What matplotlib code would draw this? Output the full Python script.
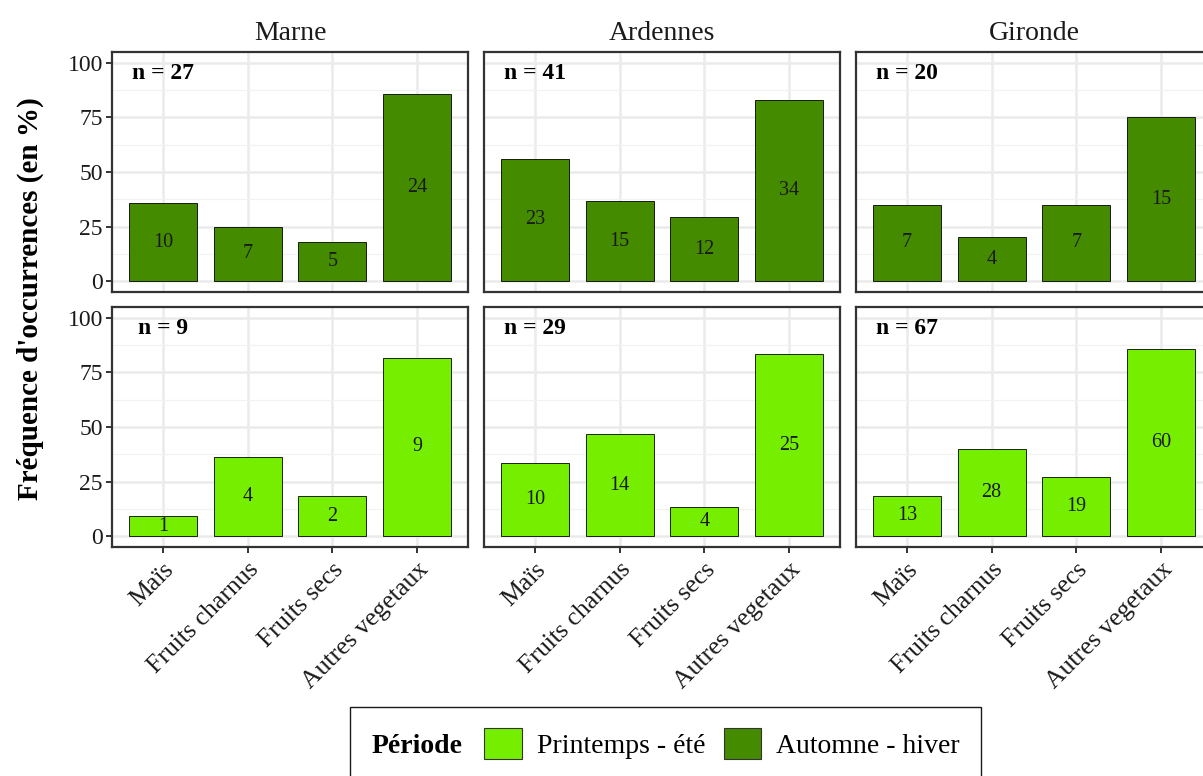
import matplotlib
matplotlib.use("Agg")
import matplotlib.pyplot as plt
from matplotlib.patches import Patch
from matplotlib.offsetbox import HPacker
from matplotlib.ticker import MultipleLocator

plt.rcParams['font.family'] = ['Liberation Serif', 'DejaVu Serif']

categories = ["Maïs", "Fruits charnus", "Fruits secs", "Autres vegetaux"]
regions = ["Marne", "Ardennes", "Gironde"]

# Automne - hiver (top row)
marne_aut_pct = [35.7, 25.0, 17.9, 85.7]
marne_aut_cnt = [10, 7, 5, 24]
ardennes_aut_pct = [56.1, 36.6, 29.3, 82.9]
ardennes_aut_cnt = [23, 15, 12, 34]
gironde_aut_pct = [35.0, 20.0, 35.0, 75.0]
gironde_aut_cnt = [7, 4, 7, 15]

# Printemps - été (bottom row)
marne_spr_pct = [9.1, 36.4, 18.2, 81.8]
marne_spr_cnt = [1, 4, 2, 9]
ardennes_spr_pct = [33.3, 46.7, 13.3, 83.3]
ardennes_spr_cnt = [10, 14, 4, 25]
gironde_spr_pct = [18.6, 40.0, 27.1, 85.7]
gironde_spr_cnt = [13, 28, 19, 60]

n_aut = [27, 41, 20]
n_spr = [9, 29, 67]

yticks = [0, 25, 50, 75, 100]

color_spr = "#76EE00"
color_aut = "#458B00"

W, H = 1203, 776
fig = plt.figure(figsize=(W / 100, H / 100), dpi=100)

def px_axes(left, top, width, height):
    return fig.add_axes([left / W, 1 - (top + height) / H, width / W, height / H])

lefts = [112, 484, 856]
panel_w = 356
rows = [
    (52, 240, [marne_aut_pct, ardennes_aut_pct, gironde_aut_pct],
     [marne_aut_cnt, ardennes_aut_cnt, gironde_aut_cnt], n_aut, color_aut),
    (307, 240, [marne_spr_pct, ardennes_spr_pct, gironde_spr_pct],
     [marne_spr_cnt, ardennes_spr_cnt, gironde_spr_cnt], n_spr, color_spr),
]

x = list(range(1, len(categories) + 1))
for ri, (top, h, pcts, cnts, ns, col) in enumerate(rows):
    for ci in range(3):
        ax = px_axes(lefts[ci], top, panel_w, h)
        ax.set_axisbelow(True)
        ax.bar(x, pcts[ci], width=0.8, color=col, edgecolor="black", linewidth=0.6, zorder=2)
        for xi, p, c in zip(x, pcts[ci], cnts[ci]):
            ax.text(xi, p / 2, str(c), ha="center", va="center", fontsize=14.5, color="#1a1a1a", zorder=3)
        ax.text(1, 95, f"n = {ns[ci]}", ha="center", va="center", fontsize=17,
                fontweight="bold", color="black", zorder=3)
        ax.set_xlim(0.4, 4.6)
        ax.set_ylim(-5, 105)
        ax.set_xticks(x)
        ax.set_yticks(yticks)
        ax.yaxis.set_minor_locator(MultipleLocator(12.5))
        ax.grid(True, which="major", color="#EBEBEB", linewidth=1.8, zorder=0)
        ax.grid(True, which="minor", axis="y", color="#F2F2F2", linewidth=0.9, zorder=0)
        ax.tick_params(which="minor", length=0)
        for s in ax.spines.values():
            s.set_color("#333333")
            s.set_linewidth(1.6)
            s.set_zorder(4)
        ax.tick_params(axis="both", which="major", color="#333333", width=1.4, length=4.5,
                       labelsize=17, labelcolor="#1a1a1a", pad=2)
        if ci == 0:
            ax.set_yticklabels([str(t) for t in yticks])
        else:
            ax.tick_params(axis="y", which="major", length=0, labelleft=False)
        if ri == 1:
            ax.set_xticklabels(categories, rotation=45, ha="right", va="top",
                               rotation_mode="anchor", fontsize=18.5)
            ax.tick_params(axis="x", which="major", pad=4)
        else:
            ax.tick_params(axis="x", which="major", length=0, labelbottom=False)
            ax.set_title(regions[ci], fontsize=20, pad=9, color="#1a1a1a")

fig.text(30 / W, 1 - 299 / H, "Fréquence d'occurrences (en %)", rotation=90,
         ha="center", va="center", fontsize=21, fontweight="bold")

handles = [Patch(facecolor=color_spr, edgecolor="#333333", linewidth=0.8),
           Patch(facecolor=color_aut, edgecolor="#333333", linewidth=0.8)]
leg = fig.legend(handles, ["Printemps - été", "Automne - hiver"], ncol=2,
                 loc="upper left", bbox_to_anchor=(350 / W, 1 - 707 / H),
                 fontsize=20, title="Période",
                 title_fontproperties={"weight": "bold", "size": 20, "family": "Liberation Serif"},
                 frameon=True, fancybox=False, edgecolor="#1a1a1a", framealpha=1,
                 borderpad=0.55, handlelength=1.35, handleheight=1.35,
                 handletextpad=0.55, columnspacing=0.65, borderaxespad=0)
leg.get_frame().set_linewidth(1.0)
fs = 20 * 100 / 72
newbox = HPacker(pad=leg.borderpad * fs, sep=0.57 * fs, align="baseline",
                 children=[leg._legend_title_box, leg._legend_handle_box])
newbox.set_figure(fig)
newbox.axes = None
leg._legend_box = newbox
newbox.set_offset(leg._findoffset)

fig.savefig("out.png", dpi=100)
